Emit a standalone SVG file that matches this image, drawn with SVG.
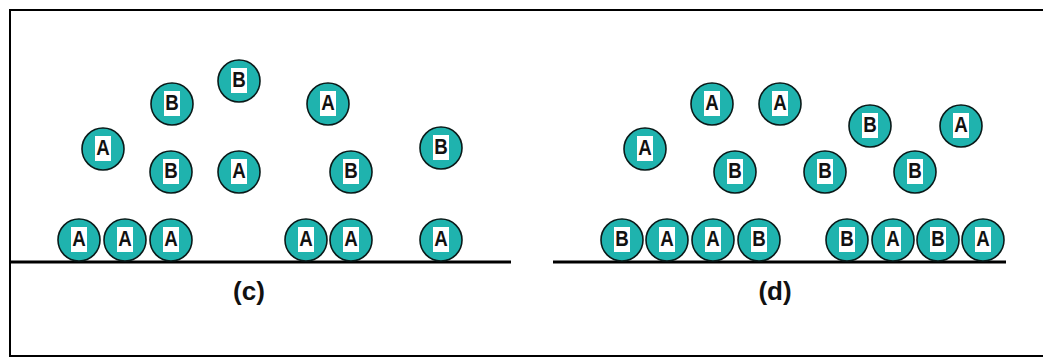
<svg xmlns="http://www.w3.org/2000/svg" width="1043" height="358" viewBox="0 0 1043 358">
<style>
.m circle{fill:#1fb3ae;stroke:#0a1a19;stroke-width:1.6}
.m rect{fill:#ffffff}
.m text{font-family:"Liberation Sans",Arial,sans-serif;font-size:22px;font-weight:bold;fill:#111;text-anchor:middle}
.lbl{font-family:"Liberation Sans",Arial,sans-serif;font-size:26px;font-weight:bold;fill:#111;text-anchor:middle}
.ln{stroke:#000;stroke-width:3;fill:none}
.bd{stroke:#000;stroke-width:2;fill:none}
</style>
<defs>
<g id="mA" class="m"><circle r="21"/><rect x="-8" y="-13" width="16" height="25"/><text y="6" transform="scale(0.85,1)">A</text></g>
<g id="mB" class="m"><circle r="21"/><rect x="-8" y="-13" width="16" height="25"/><text y="6" transform="scale(0.85,1)">B</text></g>
</defs>
<rect width="1043" height="358" fill="#fff"/>
<g id="frame">
<path class="bd" d="M1043,10 H10 V356 H1043"/>
</g>
<g id="connectors">
<line class="ln" x1="10" y1="262" x2="511" y2="262"/>
<line class="ln" x1="553" y1="262" x2="1006" y2="262"/>
</g>
<g id="panel-c">
<use id="c1" href="#mB" x="172" y="104"/>
<use id="c2" href="#mB" x="239" y="81"/>
<use id="c3" href="#mA" x="103" y="149"/>
<use id="c4" href="#mB" x="171" y="172"/>
<use id="c5" href="#mA" x="239" y="172"/>
<use id="c6" href="#mA" x="328" y="104"/>
<use id="c7" href="#mB" x="351" y="172"/>
<use id="c8" href="#mB" x="441" y="148"/>
<use id="c9" href="#mA" x="79" y="240"/>
<use id="c10" href="#mA" x="125" y="240"/>
<use id="c11" href="#mA" x="171" y="240"/>
<use id="c12" href="#mA" x="306" y="240"/>
<use id="c13" href="#mA" x="351" y="240"/>
<use id="c14" href="#mA" x="441" y="240"/>
<text class="lbl" x="249" y="300">(c)</text>
</g>
<g id="panel-d">
<use id="d1" href="#mA" x="645" y="149"/>
<use id="d2" href="#mA" x="712" y="104"/>
<use id="d3" href="#mA" x="780" y="104"/>
<use id="d4" href="#mB" x="735" y="172"/>
<use id="d5" href="#mB" x="825" y="172"/>
<use id="d6" href="#mB" x="870" y="126"/>
<use id="d7" href="#mB" x="915" y="172"/>
<use id="d8" href="#mA" x="961" y="126"/>
<use id="d9" href="#mB" x="622" y="240"/>
<use id="d10" href="#mA" x="667" y="240"/>
<use id="d11" href="#mA" x="713" y="240"/>
<use id="d12" href="#mB" x="759" y="240"/>
<use id="d13" href="#mB" x="847" y="240"/>
<use id="d14" href="#mA" x="893" y="240"/>
<use id="d15" href="#mB" x="938" y="240"/>
<use id="d16" href="#mA" x="983" y="240"/>
<text class="lbl" x="775" y="300">(d)</text>
</g>
</svg>
